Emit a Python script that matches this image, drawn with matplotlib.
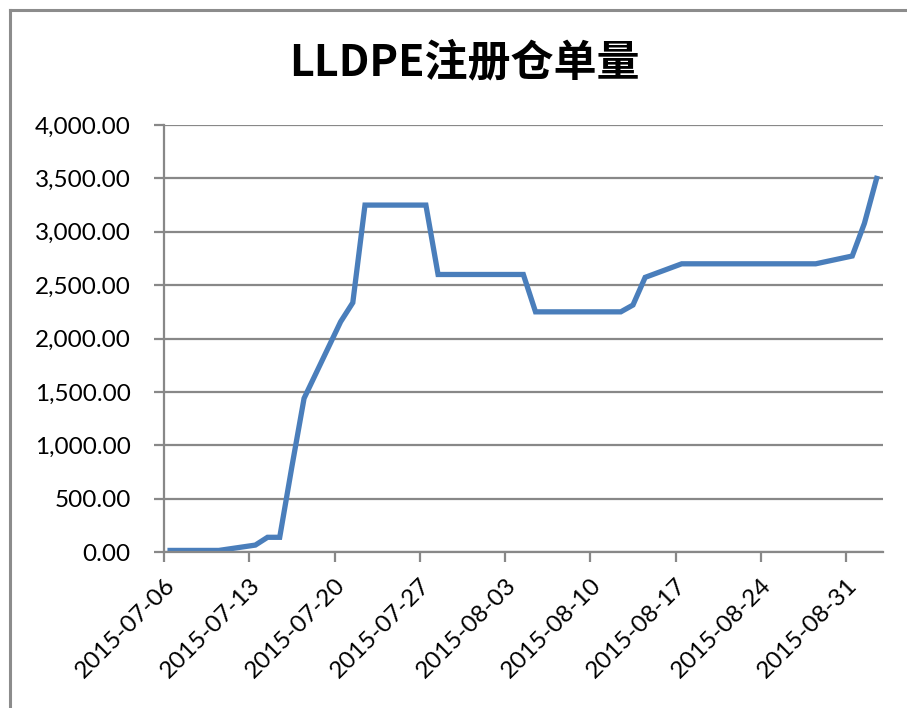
import pandas as pd
import matplotlib
matplotlib.use("Agg")
import matplotlib.pyplot as plt
import matplotlib.dates as mdates
from matplotlib.ticker import FuncFormatter
from matplotlib.lines import Line2D

plt.rcParams['font.family'] = ['Lato', 'Noto Sans CJK SC', 'DejaVu Sans']

# trading days and registered warrant volume
dates = pd.to_datetime([
    "2015-07-06", "2015-07-07", "2015-07-08", "2015-07-09", "2015-07-10",
    "2015-07-13", "2015-07-14", "2015-07-15", "2015-07-16", "2015-07-17",
    "2015-07-20", "2015-07-21", "2015-07-22", "2015-07-23", "2015-07-24",
    "2015-07-27", "2015-07-28", "2015-07-29", "2015-07-30", "2015-07-31",
    "2015-08-03", "2015-08-04", "2015-08-05", "2015-08-06", "2015-08-07",
    "2015-08-10", "2015-08-11", "2015-08-12", "2015-08-13", "2015-08-14",
    "2015-08-17", "2015-08-18", "2015-08-19", "2015-08-20", "2015-08-21",
    "2015-08-24", "2015-08-25", "2015-08-26", "2015-08-27", "2015-08-28",
    "2015-08-31", "2015-09-01", "2015-09-02",
])
values = [
    15, 15, 15, 15, 15,
    65, 138, 138, 800, 1440,
    2157, 2336, 3250, 3250, 3250,
    3250, 2600, 2600, 2600, 2600,
    2600, 2600, 2250, 2250, 2250,
    2250, 2250, 2250, 2314, 2573,
    2700, 2700, 2700, 2700, 2700,
    2700, 2700, 2700, 2700, 2700,
    2773, 3079, 3500,
]
tick_dates = pd.date_range("2015-07-06", "2015-08-31", freq="7D")

title = "LLDPE注册仓单量"
line_color = "#4A7EBB"
grid_color = "#888888"

fig = plt.figure(figsize=(9.07, 7.08), dpi=100)
ax = fig.add_axes([0.1808, 0.2203, 0.7924, 0.6031])

# Excel date axis puts each point in the middle of its day
x = dates + pd.Timedelta(hours=12)
ax.plot(x, values, color=line_color, linewidth=3.8, solid_joinstyle="miter")

ax.set_xlim(pd.Timestamp("2015-07-06"), pd.Timestamp("2015-09-03"))
ax.set_ylim(0, 4000)
ax.set_yticks(range(0, 4001, 500))
ax.yaxis.set_major_formatter(FuncFormatter(lambda v, p: f"{v:,.2f}"))
ax.set_xticks(tick_dates)
ax.xaxis.set_major_formatter(mdates.DateFormatter("%Y-%m-%d"))

ax.grid(axis="y", color=grid_color, linewidth=1.6)
ax.set_axisbelow(True)
for s in ["top", "right"]:
    ax.spines[s].set_visible(False)
for s in ["left", "bottom"]:
    ax.spines[s].set_color(grid_color)
    ax.spines[s].set_linewidth(1.6)

ax.tick_params(axis="both", direction="out", length=7, width=1.6,
               color=grid_color, labelsize=17.5, labelcolor="black")
ax.tick_params(axis="y", pad=17)
ax.tick_params(axis="x", pad=9)
plt.setp(ax.get_xticklabels(), rotation=45, ha="right", rotation_mode="anchor")

fig.text(0.512, 0.912, title, ha="center", va="center", fontsize=31,
         fontweight="bold", family=['Noto Sans CJK SC', 'DejaVu Sans'])

# chart frame (cut off at right and bottom)
fig.add_artist(Line2D([9.5 / 907, 9.5 / 907], [0, 1 - 9.5 / 708],
                      transform=fig.transFigure, color="#8c8c8c", linewidth=2.2))
fig.add_artist(Line2D([9.5 / 907, 1], [1 - 9.5 / 708, 1 - 9.5 / 708],
                      transform=fig.transFigure, color="#8c8c8c", linewidth=2.2))

fig.savefig("out.png", dpi=100)
